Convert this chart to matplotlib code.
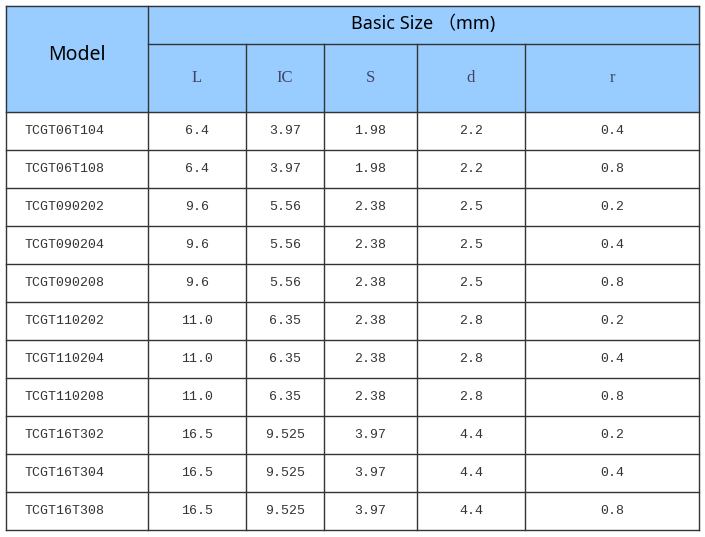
import matplotlib.pyplot as plt

models = ["TCGT06T104", "TCGT06T108", "TCGT090202", "TCGT090204", "TCGT090208",
          "TCGT110202", "TCGT110204", "TCGT110208", "TCGT16T302", "TCGT16T304", "TCGT16T308"]
col_L = ["6.4", "6.4", "9.6", "9.6", "9.6", "11.0", "11.0", "11.0", "16.5", "16.5", "16.5"]
col_IC = ["3.97", "3.97", "5.56", "5.56", "5.56", "6.35", "6.35", "6.35", "9.525", "9.525", "9.525"]
col_S = ["1.98", "1.98", "2.38", "2.38", "2.38", "2.38", "2.38", "2.38", "3.97", "3.97", "3.97"]
col_d = ["2.2", "2.2", "2.5", "2.5", "2.5", "2.8", "2.8", "2.8", "4.4", "4.4", "4.4"]
col_r = ["0.4", "0.8", "0.2", "0.4", "0.8", "0.2", "0.4", "0.8", "0.2", "0.4", "0.8"]
sub_headers = ["L", "IC", "S", "d", "r"]

# layout in pixels
xs = [6, 148, 246, 324, 417, 525, 699]
top, mid, head_bot, row_h = 6, 44, 112, 38
n = len(models)
bottom = head_bot + n * row_h

fig = plt.figure(figsize=(7.05, 5.37), dpi=100)
ax = fig.add_axes([0, 0, 1, 1])
ax.set_xlim(0, 705)
ax.set_ylim(537, 0)
ax.axis("off")

ax.add_patch(plt.Rectangle((xs[0], top), xs[-1] - xs[0], head_bot - top, color="#99ccff", zorder=0))

lc = "#333333"
ax.plot([xs[0], xs[-1]], [top, top], color=lc, lw=1)
ax.plot([xs[1], xs[-1]], [mid, mid], color=lc, lw=1)
for i in range(n + 1):
    y = head_bot + i * row_h
    ax.plot([xs[0], xs[-1]], [y, y], color=lc, lw=1)
ax.plot([xs[0], xs[0]], [top, bottom], color=lc, lw=1)
ax.plot([xs[1], xs[1]], [top, bottom], color=lc, lw=1)
ax.plot([xs[-1], xs[-1]], [top, bottom], color=lc, lw=1)
for x in xs[2:-1]:
    ax.plot([x, x], [mid, bottom], color=lc, lw=1)

ax.text((xs[0] + xs[1]) / 2, 55, "Model", ha="center", va="center", fontsize=14,
        family="Noto Sans")
ax.text((xs[1] + xs[-1]) / 2, 24, "Basic Size （mm)", ha="center", va="center", fontsize=13,
        family=["Noto Sans", "Noto Sans CJK SC"])
for j, h in enumerate(sub_headers):
    ax.text((xs[j + 1] + xs[j + 2]) / 2, 78, h, ha="center", va="center", fontsize=12,
            family="Liberation Serif", color="#444466")

cols = [col_L, col_IC, col_S, col_d, col_r]
for i in range(n):
    y = head_bot + i * row_h + row_h / 2
    ax.text(24, y, models[i], ha="left", va="center", fontsize=9.5,
            family="Liberation Mono", color="#333333")
    for j, c in enumerate(cols):
        ax.text((xs[j + 1] + xs[j + 2]) / 2, y, c[i], ha="center", va="center", fontsize=9.5,
                family="Liberation Mono", color="#333333")

fig.savefig("out.png", dpi=100)
